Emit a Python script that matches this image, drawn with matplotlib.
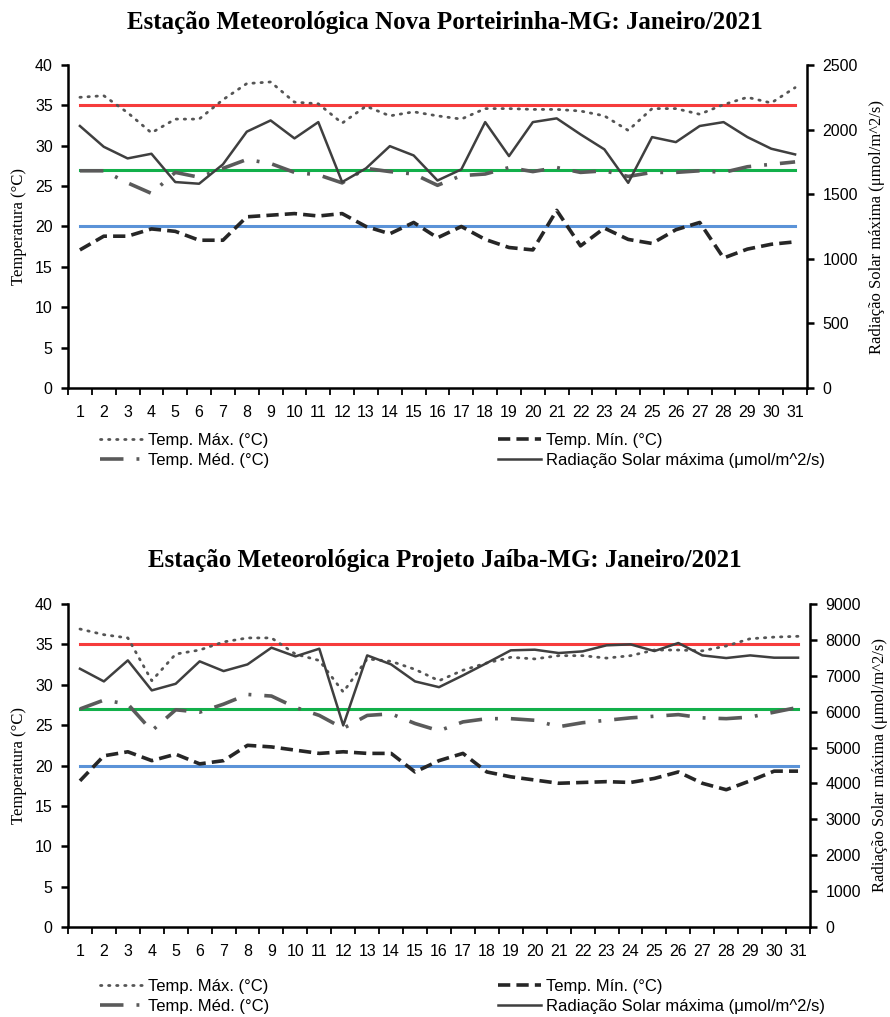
import numpy as np
import matplotlib
matplotlib.use("Agg")
import matplotlib.pyplot as plt

# ---------------------------------------------------------------- data
days = list(range(1, 32))

# Nova Porteirinha-MG
np_tmax = [36.0, 36.2, 34.1, 31.6, 33.3, 33.3, 35.7, 37.7, 37.9, 35.4, 35.2, 32.8,
           34.9, 33.7, 34.2, 33.7, 33.3, 34.6, 34.6, 34.5, 34.5, 34.3, 33.7, 31.9,
           34.6, 34.6, 33.9, 35.1, 36.0, 35.3, 37.2]
np_tmin = [17.1, 18.8, 18.8, 19.7, 19.4, 18.3, 18.3, 21.2, 21.4, 21.6, 21.3, 21.6,
           20.0, 19.1, 20.5, 18.6, 20.0, 18.4, 17.4, 17.1, 22.0, 17.6, 19.8, 18.4,
           17.9, 19.6, 20.5, 16.1, 17.2, 17.8, 18.1]
np_tmed = [26.9, 26.9, 25.4, 24.1, 26.7, 26.1, 27.2, 28.3, 27.8, 26.7, 26.4, 25.4,
           27.2, 26.8, 26.5, 25.1, 26.3, 26.5, 27.3, 26.8, 27.3, 26.7, 26.9, 26.2,
           26.7, 26.7, 26.9, 26.7, 27.4, 27.7, 28.0]
np_rad = [2028, 1867, 1777, 1813, 1594, 1581, 1731, 1984, 2071, 1932, 2058, 1594,
          1700, 1872, 1800, 1606, 1692, 2058, 1795, 2058, 2087, 1963, 1847, 1588,
          1942, 1903, 2028, 2058, 1942, 1852, 1808]

# Projeto Jaiba-MG
pj_tmax = [36.9, 36.2, 35.8, 30.5, 33.8, 34.3, 35.3, 35.8, 35.8, 33.8, 33.0, 29.1,
           33.2, 32.9, 31.9, 30.5, 31.8, 32.7, 33.4, 33.2, 33.6, 33.6, 33.3, 33.6,
           34.3, 34.3, 34.2, 34.8, 35.7, 35.9, 36.0]
pj_tmin = [18.1, 21.2, 21.7, 20.6, 21.4, 20.2, 20.6, 22.5, 22.3, 21.9, 21.5, 21.7,
           21.5, 21.5, 19.2, 20.6, 21.5, 19.2, 18.6, 18.2, 17.8, 17.9, 18.0, 17.9,
           18.4, 19.2, 17.8, 17.0, 18.1, 19.3, 19.3]
pj_tmed = [27.0, 28.1, 27.6, 24.3, 26.9, 26.6, 27.6, 28.8, 28.6, 27.2, 26.2, 24.6,
           26.2, 26.4, 25.2, 24.3, 25.4, 25.8, 25.8, 25.6, 24.8, 25.3, 25.6, 25.9,
           26.1, 26.3, 25.9, 25.8, 26.0, 26.6, 27.2]
pj_rad = [7196, 6843, 7429, 6593, 6777, 7402, 7131, 7317, 7783, 7540, 7754, 5616,
          7568, 7317, 6843, 6683, 7011, 7356, 7709, 7727, 7634, 7680, 7848, 7875,
          7689, 7913, 7568, 7494, 7568, 7504, 7504]

ref_max = 35
ref_med = 27
ref_min = 20

titles = ["Estação Meteorológica Nova Porteirinha-MG: Janeiro/2021",
          "Estação Meteorológica Projeto Jaíba-MG: Janeiro/2021"]
lbl_max = "Temp. Máx. (°C)"
lbl_min = "Temp. Mín. (°C)"
lbl_med = "Temp. Méd. (°C)"
lbl_rad = "Radiação Solar máxima (μmol/m^2/s)"

SANS = ["Liberation Sans", "DejaVu Sans"]
SERIF = ["Liberation Serif", "DejaVu Serif"]
plt.rcParams["font.family"] = SANS

W, H = 890, 1017
fig = plt.figure(figsize=(W / 100, H / 100), dpi=100)


def draw_panel(rect, title, tmax, tmin, tmed, rad, rmax, rstep, leg_y, title_y):
    ax = fig.add_axes(rect)
    # linhas de referencia
    ax.plot(days, [ref_max] * len(days), color="#f63c3c", lw=2.2, zorder=2)
    ax.plot(days, [ref_med] * len(days), color="#12b04a", lw=2.2, zorder=2)
    ax.plot(days, [ref_min] * len(days), color="#5b93d8", lw=2.2, zorder=2)
    l_max, = ax.plot(days, tmax, color="#555555", lw=2.0, ls=(0, (0.5, 2.4)),
                     dash_capstyle="round", zorder=3)
    l_min, = ax.plot(days, tmin, color="#262626", lw=2.6, ls=(0, (3.4, 1.7)), zorder=3)
    l_med, = ax.plot(days, tmed, color="#5a5a5a", lw=2.6, ls=(0, (6.5, 3.6, 0.8, 3.6)),
                     zorder=3)
    ax.set_xlim(0.5, 31.5)
    ax.set_ylim(0, 40)
    ax.set_yticks(np.arange(0, 41, 5))
    ax.set_xticks(days)
    ax.set_xticks(np.arange(0.5, 32, 1), minor=True)
    ax.tick_params(axis="x", which="major", length=0, pad=12, labelsize=11.5)
    ax.tick_params(axis="x", which="minor", length=5, width=1.3, direction="out")
    ax.tick_params(axis="y", length=5, width=1.8, direction="out", labelsize=11.5, pad=6)
    for s in ["top", "right"]:
        ax.spines[s].set_visible(False)
    for s in ["left", "bottom"]:
        ax.spines[s].set_linewidth(1.8)
    ax.set_ylabel("Temperatura (°C)", family=SERIF, fontsize=12, labelpad=6)

    ax2 = ax.twinx()
    l_rad, = ax2.plot(days, rad, color="#3f3f3f", lw=1.8, zorder=4)
    ax2.set_ylim(0, rmax)
    ax2.set_yticks(np.arange(0, rmax + 1, rstep))
    ax2.tick_params(axis="y", length=5, width=1.8, direction="out", labelsize=11.5, pad=6)
    for s in ["top", "left", "bottom"]:
        ax2.spines[s].set_visible(False)
    ax2.spines["right"].set_linewidth(1.8)
    ax2.set_ylabel(lbl_rad, family=SERIF, fontsize=12, labelpad=8)

    fig.text(0.5, title_y, title, ha="center", va="center", family=SERIF,
             fontsize=18, fontweight="bold")

    fig.legend([l_max, l_med, l_min, l_rad], [lbl_max, lbl_med, lbl_min, lbl_rad],
               loc="upper left", bbox_to_anchor=(93 / W, leg_y), ncol=2, frameon=False,
               fontsize=12, handlelength=2.6, handletextpad=0.3, columnspacing=13.7,
               labelspacing=0.3, borderaxespad=0)
    return ax, ax2


draw_panel([68 / W, 1 - 388 / H, 739 / W, 323 / H], titles[0],
           np_tmax, np_tmin, np_tmed, np_rad, 2500, 500,
           1 - 426 / H, 1 - 22 / H)
draw_panel([68 / W, 1 - 927 / H, 742 / W, 323 / H], titles[1],
           pj_tmax, pj_tmin, pj_tmed, pj_rad, 9000, 1000,
           1 - 972 / H, 1 - 560 / H)

fig.savefig("out.png", dpi=100)
